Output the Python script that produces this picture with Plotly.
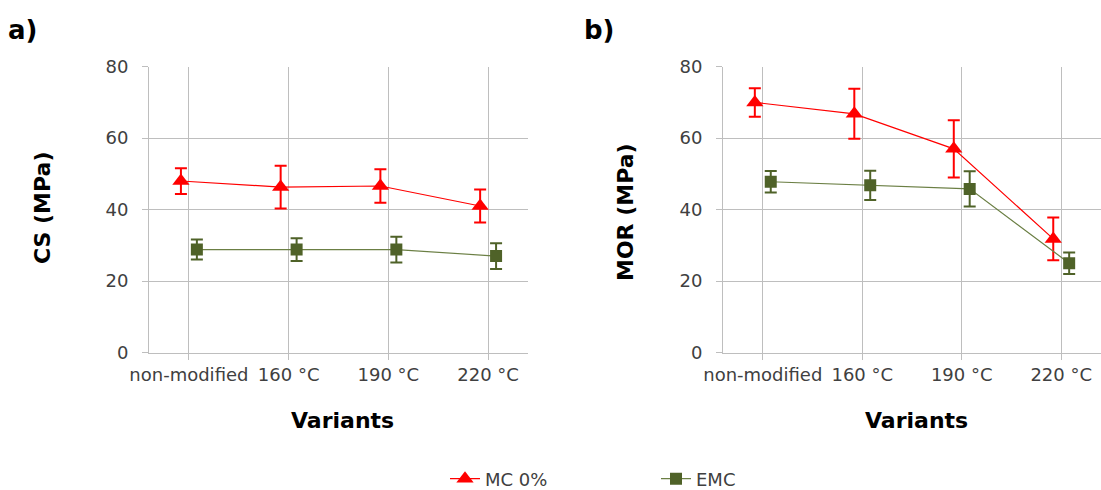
import plotly.graph_objects as go

categories = ["non-modified", "160 °C", "190 °C", "220 °C"]
y_ticks = [0, 20, 40, 60, 80]

cs_mc0 = [48.0, 46.3, 46.6, 41.0]
cs_mc0_err = [3.6, 6.0, 4.7, 4.6]
cs_emc = [28.8, 28.8, 28.8, 27.0]
cs_emc_err = [2.8, 3.2, 3.6, 3.6]

mor_mc0 = [70.0, 66.8, 57.0, 31.8]
mor_mc0_err = [4.0, 7.0, 8.0, 6.0]
mor_emc = [47.8, 46.8, 45.8, 25.0]
mor_emc_err = [3.0, 4.1, 4.9, 3.0]

W, H = 1101, 490
RED = "#FF0000"
GREEN = "#4F6228"
GREEN_LINE = "#6B7F44"
GRID = "#BEBEBE"
TXT = "#404040"
FONT = "DejaVu Sans, Liberation Sans, Arial, sans-serif"


def px(x):
    return x / W


def py(y):
    return 1 - y / H


OFF = 0.08
fig = go.Figure()


def add_panel(mc, mc_err, emc, emc_err, xa, ya, show):
    idx = list(range(len(categories)))
    fig.add_trace(go.Scatter(
        x=[i - OFF for i in idx], y=mc, name="MC 0%", mode="lines+markers",
        line=dict(color=RED, width=1.2),
        marker=dict(symbol="triangle-up", size=15, color=RED),
        error_y=dict(type="data", array=mc_err, color=RED, thickness=2, width=6),
        xaxis=xa, yaxis=ya, showlegend=show, legendgroup="mc",
    ))
    fig.add_trace(go.Scatter(
        x=[i + OFF for i in idx], y=emc, name="EMC", mode="lines+markers",
        line=dict(color=GREEN_LINE, width=1.2),
        marker=dict(symbol="square", size=12, color=GREEN),
        error_y=dict(type="data", array=emc_err, color=GREEN, thickness=2, width=6),
        xaxis=xa, yaxis=ya, showlegend=show, legendgroup="emc",
    ))


add_panel(cs_mc0, cs_mc0_err, cs_emc, cs_emc_err, "x", "y", True)
add_panel(mor_mc0, mor_mc0_err, mor_emc, mor_emc_err, "x2", "y2", False)

ydom = [py(352.5), py(66.7)]
xcommon = dict(
    range=[-0.4, 3.4], tickmode="array", tickvals=list(range(len(categories))),
    ticktext=categories, showgrid=True, gridcolor=GRID, gridwidth=1,
    showline=True, linecolor=GRID, linewidth=1, ticks="outside", ticklen=6,
    tickcolor=GRID, tickfont=dict(family=FONT, size=18, color=TXT), zeroline=False,
    fixedrange=True, automargin=False,
)
ycommon = dict(
    range=[0, 80], tickmode="array", tickvals=y_ticks, showgrid=True,
    gridcolor=GRID, gridwidth=1, showline=True, linecolor=GRID, linewidth=1,
    ticks="outside", ticklen=6, tickcolor=GRID,
    tickfont=dict(family=FONT, size=18, color=TXT), zeroline=False,
    ticklabelstandoff=10, fixedrange=True, automargin=False,
)

fig.update_layout(
    width=W, height=H,
    margin=dict(l=0, r=0, t=0, b=0, autoexpand=False),
    paper_bgcolor="white", plot_bgcolor="white",
    xaxis=dict(domain=[px(149), px(528)], anchor="y", **xcommon),
    yaxis=dict(domain=ydom, anchor="x", **ycommon),
    xaxis2=dict(domain=[px(723), 1.0], anchor="y2", **xcommon),
    yaxis2=dict(domain=ydom, anchor="x2", **ycommon),
    legend=dict(
        orientation="h", x=px(445), y=py(479), xanchor="left", yanchor="middle",
        font=dict(family=FONT, size=18, color=TXT),
        entrywidth=166, entrywidthmode="pixels", bgcolor="rgba(0,0,0,0)",
    ),
    font=dict(family=FONT, color=TXT),
)

ann = [
    dict(text="<b>a)</b>", x=px(6), y=py(30), xanchor="left", size=26, angle=0),
    dict(text="<b>b)</b>", x=px(582), y=py(30), xanchor="left", size=26, angle=0),
    dict(text="<b>CS (MPa)</b>", x=px(42), y=py(208), xanchor="center", size=22, angle=-90),
    dict(text="<b>MOR (MPa)</b>", x=px(625), y=py(212), xanchor="center", size=22, angle=-90),
    dict(text="<b>Variants</b>", x=px(342), y=py(420), xanchor="center", size=22, angle=0),
    dict(text="<b>Variants</b>", x=px(916), y=py(420), xanchor="center", size=22, angle=0),
]
for a in ann:
    fig.add_annotation(
        text=a["text"], x=a["x"], y=a["y"], xref="paper", yref="paper",
        xanchor=a["xanchor"], yanchor="middle", showarrow=False, textangle=a["angle"],
        font=dict(family=FONT, size=a["size"], color="black"),
    )

fig.write_html(
    "out.html",
    config={"displayModeBar": False},
    post_script="document.body.style.margin='0';document.body.style.overflow='hidden';",
)
